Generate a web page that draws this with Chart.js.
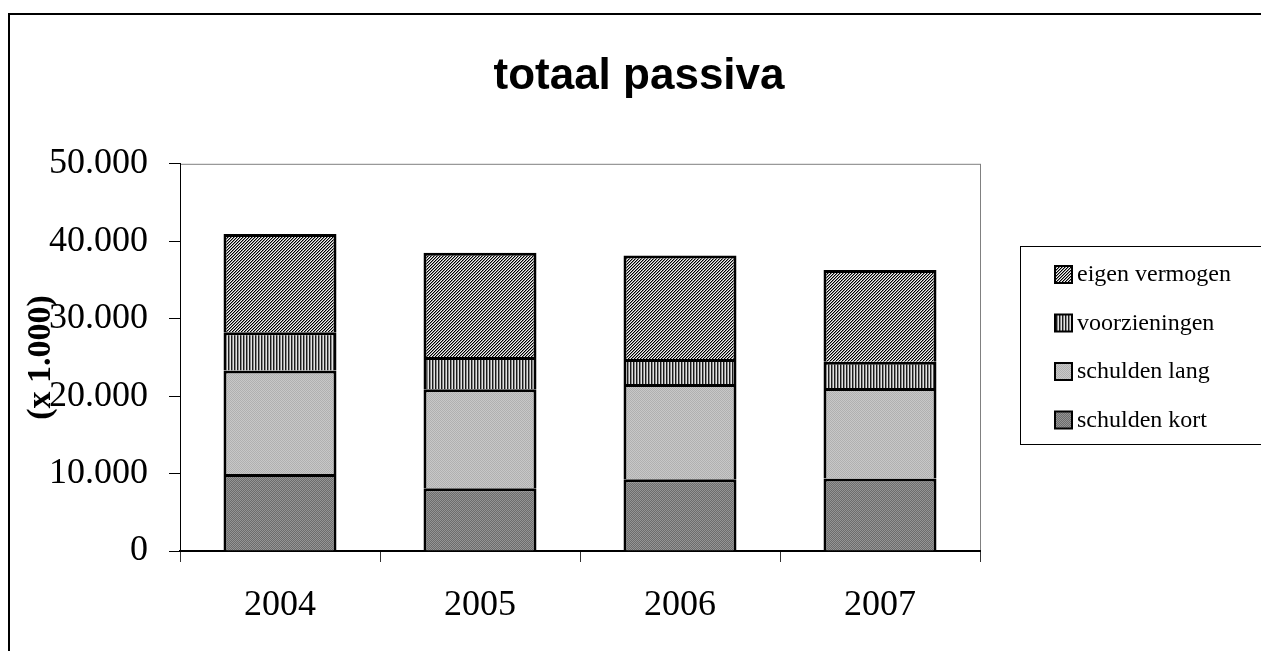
<!DOCTYPE html>
<html>
<head>
<meta charset="utf-8">
<title>totaal passiva</title>
<script src="https://cdn.jsdelivr.net/npm/chart.js@4/dist/chart.umd.min.js"></script>
<style>
  html, body { margin: 0; padding: 0; background: #fff; overflow: hidden; }
  #frame { position: absolute; left: 8px; top: 13px; width: 1400px; height: 800px;
           border-left: 2px solid #000; border-top: 2px solid #000; }
  #chart { position: absolute; left: 0; top: 0; }
</style>
</head>
<body>
<div id="frame"></div>
<canvas id="chart" width="1261" height="651"></canvas>
<script>
var years = ['2004', '2005', '2006', '2007'];
var schuldenKort = [9950, 8100, 9250, 9350];
var schuldenLang = [13350, 12800, 12300, 11700];
var voorzieningen = [4950, 4150, 3250, 3400];
var eigenVermogen = [12700, 13450, 13350, 11850];
var yTicks = [0, 10000, 20000, 30000, 40000, 50000];

// small repeating fills, like the old excel hatches
function makePattern(w, h, draw){
  var c = document.createElement('canvas');
  c.width = w;
  c.height = h;
  var g = c.getContext('2d');
  draw(g);
  return g.createPattern(c, 'repeat');
}

var kortFill = makePattern(2, 2, function(g){
  g.fillStyle = '#6c6c6c'; g.fillRect(0, 0, 2, 2);
  g.fillStyle = '#959595'; g.fillRect(0, 0, 1, 1); g.fillRect(1, 1, 1, 1);
});
var langFill = makePattern(2, 2, function(g){
  g.fillStyle = '#c8c8c8'; g.fillRect(0, 0, 2, 2);
  g.fillStyle = '#b0b0b0'; g.fillRect(0, 0, 1, 1); g.fillRect(1, 1, 1, 1);
});
var voorzFill = makePattern(3, 1, function(g){
  g.fillStyle = '#1c1c1c'; g.fillRect(0, 0, 1, 1);
  g.fillStyle = '#8a8a8a'; g.fillRect(1, 0, 1, 1);
  g.fillStyle = '#e2e2e2'; g.fillRect(2, 0, 1, 1);
});
var eigenFill = makePattern(3, 3, function(g){
  g.fillStyle = '#f4f4f4'; g.fillRect(0, 0, 3, 3);
  for (var i = 0; i < 3; i++) {
    g.fillStyle = '#000'; g.fillRect(i, 2 - i, 1, 1);
    g.fillStyle = '#8c8c8c'; g.fillRect((i + 1) % 3, 2 - i, 1, 1);
  }
});

function formatNl(v){
  return String(v).replace(/\B(?=(\d{3})+(?!\d))/g, '.');
}

var plotFrame = {
  id: 'plotFrame',
  beforeDraw: function(chart){
    var a = chart.chartArea;
    var ctx = chart.ctx;
    ctx.save();
    ctx.strokeStyle = '#808080';
    ctx.lineWidth = 1;
    ctx.strokeRect(a.left + 0.5, a.top + 0.5, a.right - a.left, a.bottom - a.top);
    ctx.restore();
  }
};

var legendBox = {
  id: 'legendBox',
  afterDraw: function(chart){
    var ctx = chart.ctx;
    var sets = chart.data.datasets.slice().reverse();
    ctx.save();
    ctx.strokeStyle = '#000';
    ctx.lineWidth = 1;
    ctx.strokeRect(1020.5, 246.5, 300, 198);
    ctx.font = '24px "Liberation Serif", "Times New Roman", serif';
    ctx.textBaseline = 'middle';
    ctx.textAlign = 'left';
    sets.forEach(function(ds, i){
      var cy = 274 + i * 48.5;
      ctx.fillStyle = ds.backgroundColor;
      ctx.fillRect(1055, cy - 8, 17, 17);
      ctx.lineWidth = 2;
      ctx.strokeRect(1055, cy - 8, 17, 17);
      ctx.fillStyle = '#000';
      ctx.fillText(ds.label, 1077, cy + 1);
    });
    ctx.restore();
  }
};

Chart.defaults.color = '#000';
Chart.defaults.font.family = '"Liberation Serif", "Times New Roman", serif';

function bar(label, data, fill){
  return {
    label: label,
    data: data,
    backgroundColor: fill,
    borderColor: '#000',
    borderWidth: 3,
    borderSkipped: 'start',
    barPercentage: 1,
    categoryPercentage: 0.565
  };
}

var ctx = document.getElementById('chart');
var myChart = new Chart(ctx, {
  type: 'bar',
  data: {
    labels: years,
    datasets: [
      bar('schulden kort', schuldenKort, kortFill),
      bar('schulden lang', schuldenLang, langFill),
      bar('voorzieningen', voorzieningen, voorzFill),
      bar('eigen vermogen', eigenVermogen, eigenFill)
    ]
  },
  options: {
    responsive: false,
    animation: false,
    devicePixelRatio: 1,
    layout: { padding: { left: 17, right: 0, top: 0, bottom: 0 } },
    plugins: {
      legend: { display: false },
      tooltip: { enabled: false },
      title: {
        display: true,
        text: 'totaal passiva',
        color: '#000',
        font: { family: '"Liberation Sans", Arial, sans-serif', size: 44, weight: 'bold' },
        padding: { top: 50, bottom: 61 }
      }
    },
    scales: {
      x: {
        stacked: true,
        afterFit: function(s){ s.height = 100; },
        border: { color: '#000', width: 2 },
        grid: { offset: true, drawOnChartArea: false, tickLength: 11, color: '#333' },
        ticks: { padding: 22, font: { size: 36 } }
      },
      y: {
        stacked: true,
        min: 0,
        max: 50000,
        afterFit: function(s){ s.width = 163; },
        afterBuildTicks: function(s){
          s.ticks = yTicks.map(function(v){ return { value: v }; });
        },
        border: { color: '#000', width: 1 },
        grid: { drawOnChartArea: false, tickLength: 11, color: '#000' },
        ticks: {
          padding: 21,
          font: { size: 36 },
          callback: function(v){ return formatNl(v); }
        },
        title: {
          display: true,
          text: '(x 1.000)',
          color: '#000',
          font: { size: 34, weight: 'bold' },
          padding: { top: 4, bottom: 0 }
        }
      },
      spare: {
        type: 'linear',
        position: 'right',
        afterFit: function(s){ s.width = 281; },
        grid: { display: false },
        border: { display: false },
        ticks: { display: false }
      }
    }
  },
  plugins: [plotFrame, legendBox]
});
</script>
</body>
</html>
